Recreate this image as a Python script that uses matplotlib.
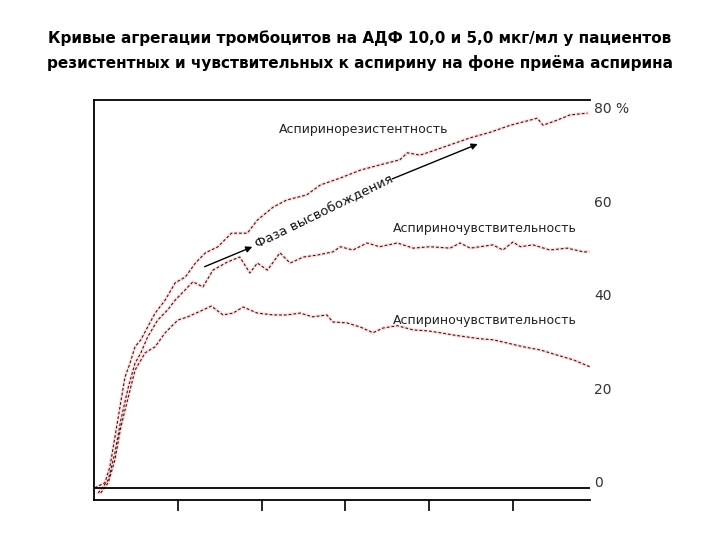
import numpy as np
import matplotlib
matplotlib.use('Agg')
import matplotlib.pyplot as plt
from matplotlib import transforms

plt.rcParams['font.family'] = ['DejaVu Sans']

#aspirin resistant curve (time, min / aggregation, %)
t_resist = [0.01, 0.13, 0.19, 0.25, 0.31, 0.37, 0.43, 0.49, 0.56, 0.64, 0.73, 0.85, 0.97, 1.09, 1.21,
            1.33, 1.48, 1.64, 1.83, 1.95, 2.14, 2.30, 2.54, 2.70, 2.94, 3.18, 3.41, 3.65, 3.74, 3.89,
            4.01, 4.25, 4.49, 4.73, 4.97, 5.12, 5.29, 5.36, 5.53, 5.68, 5.89]
y_resist = [0.0, 1.1, 4.5, 10.9, 17.3, 23.7, 26.7, 30.2, 31.7, 34.4, 37.4, 40.2, 43.9, 45.1, 48.1,
            50.3, 51.6, 54.5, 54.5, 57.3, 60.1, 61.6, 62.7, 64.8, 66.3, 68.0, 69.1, 70.2, 71.7, 71.2,
            71.9, 73.4, 74.9, 76.1, 77.6, 78.3, 79.1, 77.6, 78.7, 79.8, 80.2]

#aspirin sensitive curve, plateau ~50
t_sens1 = [0.05, 0.17, 0.25, 0.32, 0.41, 0.49, 0.56, 0.64, 0.76, 0.88, 0.97, 1.09, 1.18, 1.30, 1.42,
           1.59, 1.74, 1.86, 1.95, 2.07, 2.22, 2.34, 2.50, 2.66, 2.85, 2.94, 3.09, 3.26, 3.41,
           3.62, 3.81, 4.01, 4.25, 4.37, 4.49, 4.61, 4.76, 4.88, 5.00, 5.09, 5.24, 5.44, 5.65, 5.84, 5.90]
y_sens1 = [-1.1, 1.7, 7.5, 14.5, 21.6, 26.7, 28.9, 32.3, 35.9, 38.1, 40.2, 42.4, 44.1, 43.0, 46.6,
           48.3, 49.4, 46.0, 48.1, 46.6, 50.3, 48.1, 49.4, 49.8, 50.5, 51.6, 50.9, 52.4, 51.6,
           52.4, 51.3, 51.6, 51.3, 52.4, 51.3, 51.6, 52.0, 50.9, 52.6, 51.6, 52.0, 50.9, 51.3, 50.5, 50.5]

#aspirin sensitive curve, peak ~38 then decline
t_sens2 = [0.08, 0.17, 0.25, 0.32, 0.41, 0.49, 0.61, 0.73, 0.85, 1.00, 1.12, 1.28, 1.40, 1.54, 1.66,
           1.78, 1.95, 2.14, 2.30, 2.46, 2.61, 2.78, 2.85, 3.02, 3.18, 3.33, 3.45, 3.62, 3.81,
           3.98, 4.13, 4.29, 4.45, 4.61, 4.76, 4.93, 5.12, 5.33, 5.53, 5.72, 5.92]
y_sens2 = [-1.1, 1.1, 6.0, 13.0, 19.5, 25.2, 28.9, 30.2, 33.2, 35.9, 36.6, 37.9, 38.9, 37.0, 37.4,
           38.7, 37.4, 37.0, 37.0, 37.4, 36.6, 37.0, 35.5, 35.3, 34.4, 33.2, 34.2, 34.7, 33.8,
           33.6, 33.2, 32.7, 32.3, 31.9, 31.7, 31.0, 30.2, 29.5, 28.4, 27.4, 25.9]

y_ticks = [0, 20, 40, 60, 80]
y_labels = ['0', '20', '40', '60', '80 %']
x_ticks = [1, 2, 3, 4, 5]

title_1 = 'Кривые агрегации тромбоцитов на АДФ 10,0 и 5,0 мкг/мл у пациентов'
title_2 = 'резистентных и чувствительных к аспирину на фоне приёма аспирина'

fig = plt.figure(figsize=(7.2, 5.4), dpi=100)
ax = fig.add_axes([94 / 720, 40 / 540, 496 / 720, 400 / 540])

#curves: faint pink halo + thin dark dashed line
for t, y in [(t_resist, y_resist), (t_sens1, y_sens1), (t_sens2, y_sens2)]:
    ax.plot(t, y, color='#f8dcdc', lw=2.5, alpha=0.8, zorder=2)
    ax.plot(t, y, color='#4a1010', lw=0.8, dashes=(2.5, 1.8), zorder=3)

ax.axhline(0, color='black', lw=1.3, zorder=4)  #baseline
ax.set_xlim(0, 5.92)
ax.set_ylim(-2.6, 83)

ax.spines['right'].set_visible(False)
for s in ['left', 'top', 'bottom']:
    ax.spines[s].set_linewidth(1.3)
ax.set_xticks(x_ticks)
ax.set_xticklabels([])
ax.tick_params(axis='x', direction='out', length=8, width=1.2)
ax.set_yticks([])

#value labels on the right
trans = transforms.blended_transform_factory(ax.transAxes, ax.transData)
for v, lab in zip(y_ticks, y_labels):
    ax.text(1.008, v + 1, lab, transform=trans, ha='left', va='center',
            fontsize=10, color='#333333')

#curve names
ax.text(2.21, 76.6, 'Аспиринорезистентность', fontsize=9, color='#222222', va='center')
ax.text(3.57, 55.4, 'Аспириночувствительность', fontsize=9, color='#222222', va='center')
ax.text(3.57, 35.9, 'Аспириночувствительность', fontsize=9, color='#222222', va='center')

#release phase arrow
ax.annotate('', xy=(1.92, 51.8), xytext=(1.29, 47.1),
            arrowprops=dict(arrowstyle='-|>', color='black', lw=1, mutation_scale=9))
ax.annotate('', xy=(4.61, 73.8), xytext=(3.53, 65.9),
            arrowprops=dict(arrowstyle='-|>', color='black', lw=1, mutation_scale=9))
ax.text(2.74, 59.2, 'Фаза высвобождения', rotation=26, rotation_mode='anchor',
        ha='center', va='center', fontsize=9.5, color='#111111')

#title, scaled to the reference width
t1 = fig.text(0.5, 1 - 38 / 540, title_1, ha='center', va='center', fontsize=12.5,
              fontweight='bold', color='black')
t2 = fig.text(0.5, 1 - 63 / 540, title_2, ha='center', va='center', fontsize=12.5,
              fontweight='bold', color='black')
r = fig.canvas.get_renderer()
w = max(t1.get_window_extent(r).width, t2.get_window_extent(r).width)
for t in (t1, t2):
    t.set_fontsize(12.5 * 630 / w)

plt.savefig('out.png', dpi=100)
